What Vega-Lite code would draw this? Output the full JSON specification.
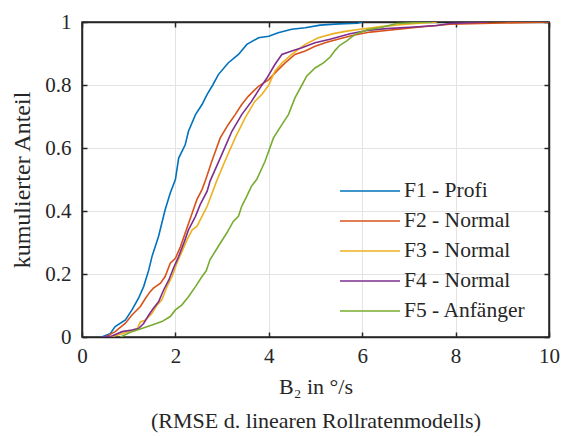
{
  "$schema": "https://vega.github.io/schema/vega-lite/v6.json",
  "width": 467,
  "height": 315,
  "autosize": {"type": "none"},
  "padding": {"left": 82, "top": 22, "right": 15, "bottom": 99},
  "background": "white",
  "config": {
    "font": "Liberation Serif",
    "view": {"stroke": "#262626", "strokeWidth": 1.5},
    "axis": {
      "labelFont": "Liberation Serif",
      "labelFontSize": 21,
      "labelColor": "#262626",
      "labelFlush": false,
      "titleFont": "Liberation Serif",
      "titleFontSize": 24,
      "titleFontWeight": "normal",
      "titleColor": "#262626",
      "domainColor": "#262626",
      "domainWidth": 1.5,
      "tickColor": "#262626",
      "tickWidth": 1.5,
      "tickSize": -5,
      "gridColor": "#e3e3e3",
      "gridWidth": 1
    },
    "legend": {"labelFont": "Liberation Serif"}
  },
  "data": {"values": [
    {"s":"F1 - Profi","x":0.42,"y":0},{"s":"F1 - Profi","x":0.6,"y":0.01},{"s":"F1 - Profi","x":0.71,"y":0.033},{"s":"F1 - Profi","x":0.93,"y":0.054},{"s":"F1 - Profi","x":1.07,"y":0.086},{"s":"F1 - Profi","x":1.21,"y":0.123},{"s":"F1 - Profi","x":1.32,"y":0.16},{"s":"F1 - Profi","x":1.43,"y":0.213},{"s":"F1 - Profi","x":1.5,"y":0.256},{"s":"F1 - Profi","x":1.64,"y":0.32},{"s":"F1 - Profi","x":1.78,"y":0.404},{"s":"F1 - Profi","x":1.89,"y":0.457},{"s":"F1 - Profi","x":2.0,"y":0.5},{"s":"F1 - Profi","x":2.07,"y":0.568},{"s":"F1 - Profi","x":2.21,"y":0.61},{"s":"F1 - Profi","x":2.28,"y":0.653},{"s":"F1 - Profi","x":2.43,"y":0.706},{"s":"F1 - Profi","x":2.57,"y":0.738},{"s":"F1 - Profi","x":2.68,"y":0.77},{"s":"F1 - Profi","x":2.8,"y":0.8},{"s":"F1 - Profi","x":2.92,"y":0.833},{"s":"F1 - Profi","x":3.13,"y":0.87},{"s":"F1 - Profi","x":3.35,"y":0.897},{"s":"F1 - Profi","x":3.53,"y":0.929},{"s":"F1 - Profi","x":3.78,"y":0.95},{"s":"F1 - Profi","x":4.0,"y":0.955},{"s":"F1 - Profi","x":4.2,"y":0.966},{"s":"F1 - Profi","x":4.49,"y":0.977},{"s":"F1 - Profi","x":4.78,"y":0.982},{"s":"F1 - Profi","x":5.1,"y":0.99},{"s":"F1 - Profi","x":5.5,"y":0.994},{"s":"F1 - Profi","x":5.9,"y":0.996},{"s":"F1 - Profi","x":6.0,"y":1},
    {"s":"F2 - Normal","x":0.5,"y":0},{"s":"F2 - Normal","x":0.71,"y":0.017},{"s":"F2 - Normal","x":0.93,"y":0.044},{"s":"F2 - Normal","x":1.07,"y":0.07},{"s":"F2 - Normal","x":1.25,"y":0.097},{"s":"F2 - Normal","x":1.36,"y":0.123},{"s":"F2 - Normal","x":1.46,"y":0.144},{"s":"F2 - Normal","x":1.53,"y":0.155},{"s":"F2 - Normal","x":1.68,"y":0.171},{"s":"F2 - Normal","x":1.78,"y":0.192},{"s":"F2 - Normal","x":1.89,"y":0.234},{"s":"F2 - Normal","x":2.0,"y":0.25},{"s":"F2 - Normal","x":2.11,"y":0.287},{"s":"F2 - Normal","x":2.21,"y":0.33},{"s":"F2 - Normal","x":2.36,"y":0.394},{"s":"F2 - Normal","x":2.46,"y":0.436},{"s":"F2 - Normal","x":2.57,"y":0.468},{"s":"F2 - Normal","x":2.65,"y":0.5},{"s":"F2 - Normal","x":2.78,"y":0.558},{"s":"F2 - Normal","x":2.96,"y":0.632},{"s":"F2 - Normal","x":3.13,"y":0.674},{"s":"F2 - Normal","x":3.28,"y":0.706},{"s":"F2 - Normal","x":3.42,"y":0.738},{"s":"F2 - Normal","x":3.56,"y":0.764},{"s":"F2 - Normal","x":3.78,"y":0.796},{"s":"F2 - Normal","x":4.0,"y":0.817},{"s":"F2 - Normal","x":4.17,"y":0.844},{"s":"F2 - Normal","x":4.35,"y":0.87},{"s":"F2 - Normal","x":4.56,"y":0.897},{"s":"F2 - Normal","x":4.78,"y":0.908},{"s":"F2 - Normal","x":4.99,"y":0.923},{"s":"F2 - Normal","x":5.24,"y":0.936},{"s":"F2 - Normal","x":5.52,"y":0.947},{"s":"F2 - Normal","x":5.81,"y":0.958},{"s":"F2 - Normal","x":6.17,"y":0.968},{"s":"F2 - Normal","x":6.52,"y":0.973},{"s":"F2 - Normal","x":6.88,"y":0.979},{"s":"F2 - Normal","x":7.24,"y":0.984},{"s":"F2 - Normal","x":7.88,"y":0.993},{"s":"F2 - Normal","x":9.0,"y":0.997},{"s":"F2 - Normal","x":10.0,"y":1},
    {"s":"F3 - Normal","x":0.6,"y":0},{"s":"F3 - Normal","x":0.86,"y":0.01},{"s":"F3 - Normal","x":1.18,"y":0.026},{"s":"F3 - Normal","x":1.25,"y":0.048},{"s":"F3 - Normal","x":1.36,"y":0.054},{"s":"F3 - Normal","x":1.5,"y":0.075},{"s":"F3 - Normal","x":1.61,"y":0.102},{"s":"F3 - Normal","x":1.71,"y":0.118},{"s":"F3 - Normal","x":1.82,"y":0.16},{"s":"F3 - Normal","x":1.93,"y":0.192},{"s":"F3 - Normal","x":2.03,"y":0.234},{"s":"F3 - Normal","x":2.14,"y":0.271},{"s":"F3 - Normal","x":2.25,"y":0.309},{"s":"F3 - Normal","x":2.36,"y":0.34},{"s":"F3 - Normal","x":2.46,"y":0.351},{"s":"F3 - Normal","x":2.57,"y":0.383},{"s":"F3 - Normal","x":2.68,"y":0.415},{"s":"F3 - Normal","x":2.88,"y":0.494},{"s":"F3 - Normal","x":3.06,"y":0.558},{"s":"F3 - Normal","x":3.28,"y":0.632},{"s":"F3 - Normal","x":3.49,"y":0.695},{"s":"F3 - Normal","x":3.7,"y":0.748},{"s":"F3 - Normal","x":3.85,"y":0.77},{"s":"F3 - Normal","x":4.0,"y":0.8},{"s":"F3 - Normal","x":4.13,"y":0.844},{"s":"F3 - Normal","x":4.28,"y":0.87},{"s":"F3 - Normal","x":4.49,"y":0.897},{"s":"F3 - Normal","x":4.78,"y":0.929},{"s":"F3 - Normal","x":5.06,"y":0.95},{"s":"F3 - Normal","x":5.38,"y":0.963},{"s":"F3 - Normal","x":5.67,"y":0.971},{"s":"F3 - Normal","x":5.95,"y":0.977},{"s":"F3 - Normal","x":6.45,"y":0.986},{"s":"F3 - Normal","x":6.88,"y":0.992},{"s":"F3 - Normal","x":7.38,"y":0.998},{"s":"F3 - Normal","x":7.6,"y":1},
    {"s":"F4 - Normal","x":0.43,"y":0},{"s":"F4 - Normal","x":0.64,"y":0.003},{"s":"F4 - Normal","x":0.86,"y":0.017},{"s":"F4 - Normal","x":1.07,"y":0.022},{"s":"F4 - Normal","x":1.21,"y":0.027},{"s":"F4 - Normal","x":1.32,"y":0.043},{"s":"F4 - Normal","x":1.43,"y":0.07},{"s":"F4 - Normal","x":1.53,"y":0.091},{"s":"F4 - Normal","x":1.64,"y":0.112},{"s":"F4 - Normal","x":1.75,"y":0.15},{"s":"F4 - Normal","x":1.86,"y":0.181},{"s":"F4 - Normal","x":1.96,"y":0.219},{"s":"F4 - Normal","x":2.07,"y":0.256},{"s":"F4 - Normal","x":2.18,"y":0.298},{"s":"F4 - Normal","x":2.28,"y":0.34},{"s":"F4 - Normal","x":2.43,"y":0.383},{"s":"F4 - Normal","x":2.53,"y":0.42},{"s":"F4 - Normal","x":2.68,"y":0.463},{"s":"F4 - Normal","x":2.74,"y":0.494},{"s":"F4 - Normal","x":2.99,"y":0.578},{"s":"F4 - Normal","x":3.21,"y":0.653},{"s":"F4 - Normal","x":3.42,"y":0.706},{"s":"F4 - Normal","x":3.63,"y":0.748},{"s":"F4 - Normal","x":3.81,"y":0.79},{"s":"F4 - Normal","x":3.96,"y":0.822},{"s":"F4 - Normal","x":4.13,"y":0.865},{"s":"F4 - Normal","x":4.28,"y":0.897},{"s":"F4 - Normal","x":4.49,"y":0.908},{"s":"F4 - Normal","x":4.71,"y":0.918},{"s":"F4 - Normal","x":4.99,"y":0.934},{"s":"F4 - Normal","x":5.31,"y":0.945},{"s":"F4 - Normal","x":5.74,"y":0.963},{"s":"F4 - Normal","x":6.1,"y":0.973},{"s":"F4 - Normal","x":6.52,"y":0.979},{"s":"F4 - Normal","x":7.1,"y":0.984},{"s":"F4 - Normal","x":7.6,"y":0.989},{"s":"F4 - Normal","x":7.88,"y":0.995},{"s":"F4 - Normal","x":8.7,"y":1},
    {"s":"F5 - Anfänger","x":0.82,"y":0},{"s":"F5 - Anfänger","x":1.07,"y":0.017},{"s":"F5 - Anfänger","x":1.28,"y":0.027},{"s":"F5 - Anfänger","x":1.5,"y":0.038},{"s":"F5 - Anfänger","x":1.71,"y":0.049},{"s":"F5 - Anfänger","x":1.89,"y":0.065},{"s":"F5 - Anfänger","x":2.0,"y":0.086},{"s":"F5 - Anfänger","x":2.14,"y":0.102},{"s":"F5 - Anfänger","x":2.28,"y":0.128},{"s":"F5 - Anfänger","x":2.43,"y":0.16},{"s":"F5 - Anfänger","x":2.57,"y":0.192},{"s":"F5 - Anfänger","x":2.66,"y":0.21},{"s":"F5 - Anfänger","x":2.74,"y":0.245},{"s":"F5 - Anfänger","x":2.92,"y":0.288},{"s":"F5 - Anfänger","x":3.1,"y":0.33},{"s":"F5 - Anfänger","x":3.24,"y":0.367},{"s":"F5 - Anfänger","x":3.35,"y":0.383},{"s":"F5 - Anfänger","x":3.42,"y":0.415},{"s":"F5 - Anfänger","x":3.53,"y":0.447},{"s":"F5 - Anfänger","x":3.63,"y":0.479},{"s":"F5 - Anfänger","x":3.74,"y":0.5},{"s":"F5 - Anfänger","x":3.92,"y":0.558},{"s":"F5 - Anfänger","x":4.1,"y":0.632},{"s":"F5 - Anfänger","x":4.28,"y":0.674},{"s":"F5 - Anfänger","x":4.42,"y":0.706},{"s":"F5 - Anfänger","x":4.56,"y":0.759},{"s":"F5 - Anfänger","x":4.71,"y":0.8},{"s":"F5 - Anfänger","x":4.81,"y":0.828},{"s":"F5 - Anfänger","x":4.99,"y":0.854},{"s":"F5 - Anfänger","x":5.17,"y":0.87},{"s":"F5 - Anfänger","x":5.31,"y":0.888},{"s":"F5 - Anfänger","x":5.42,"y":0.91},{"s":"F5 - Anfänger","x":5.52,"y":0.926},{"s":"F5 - Anfänger","x":5.67,"y":0.94},{"s":"F5 - Anfänger","x":5.77,"y":0.952},{"s":"F5 - Anfänger","x":5.88,"y":0.963},{"s":"F5 - Anfänger","x":6.1,"y":0.975},{"s":"F5 - Anfänger","x":6.38,"y":0.982},{"s":"F5 - Anfänger","x":6.74,"y":0.995},{"s":"F5 - Anfänger","x":7.3,"y":0.999},{"s":"F5 - Anfänger","x":7.5,"y":1}
  ]},
  "layer": [
    {
      "mark": {"type": "line", "strokeWidth": 1.6, "clip": true},
      "encoding": {
        "x": {"field": "x", "type": "quantitative", "scale": {"domain": [0, 10], "nice": false},
              "axis": {"orient": "bottom", "values": [0,2,4,6,8,10], "grid": true, "labelPadding": 13,
                       "labelFont": "Liberation Serif", "labelFontSize": 21, "labelFlush": false,
                       "title": ["B₂ in °/s", "(RMSE d. linearen Rollratenmodells)"], "titlePadding": 10, "titleLineHeight": 34, "titleFontSize": 22}},
        "y": {"field": "y", "type": "quantitative", "scale": {"domain": [0, 1], "nice": false},
              "axis": {"orient": "left", "values": [0,0.2,0.4,0.6,0.8,1], "format": "~g", "grid": true, "labelPadding": 16,
                       "labelFont": "Liberation Serif", "labelFontSize": 21, "labelFlush": false,
                       "title": "kumulierter Anteil", "titlePadding": 10, "titleFontSize": 24}},
        "color": {"field": "s", "type": "nominal",
                  "scale": {"domain": ["F1 - Profi","F2 - Normal","F3 - Normal","F4 - Normal","F5 - Anfänger"],
                            "range": ["#0072BD","#D95319","#EDB120","#7E2F8E","#77AC30"]},
                  "legend": {"orient": "none", "legendX": 277, "legendY": 158, "title": null,
                             "symbolType": "M-3,0H3", "symbolSize": 400, "symbolStrokeWidth": 1.5,
                             "labelFont": "Liberation Serif", "labelFontSize": 21.5, "labelColor": "#262626",
                             "labelOffset": 23, "rowPadding": 8}},
        "order": {"field": "x", "type": "quantitative"}
      }
    },
    {
      "mark": {"type": "line", "opacity": 0},
      "encoding": {
        "x": {"field": "x", "type": "quantitative",
              "axis": {"orient": "top", "values": [0,2,4,6,8,10], "labels": false, "title": null, "grid": false}},
        "y": {"field": "y", "type": "quantitative",
              "axis": {"orient": "right", "values": [0,0.2,0.4,0.6,0.8,1], "labels": false, "title": null, "grid": false}},
        "detail": {"field": "s"}
      }
    }
  ],
  "resolve": {"axis": {"x": "independent", "y": "independent"}}
}
